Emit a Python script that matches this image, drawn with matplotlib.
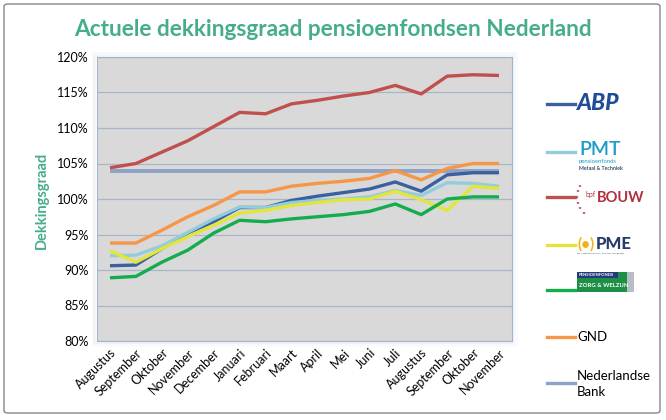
import matplotlib
matplotlib.use('Agg')
import matplotlib.pyplot as plt
from matplotlib.patches import FancyBboxPatch, Rectangle, Circle

# months on the category axis
months = ['Augustus', 'September', 'Oktober', 'November', 'December', 'Januari',
          'Februari', 'Maart', 'April', 'Mei', 'Juni', 'Juli', 'Augustus',
          'September', 'Oktober', 'November']

# dekkingsgraad per fonds (%)
abp = [90.6, 90.7, 93.0, 95.2, 96.8, 98.8, 98.8, 99.8, 100.4, 100.9, 101.4, 102.4, 101.1, 103.4, 103.7, 103.7]
pmt = [92.0, 92.1, 93.4, 95.3, 97.2, 98.9, 98.8, 99.5, 99.8, 100.0, 100.3, 101.2, 100.5, 102.3, 102.2, 101.8]
bouw = [104.4, 105.0, 106.6, 108.2, 110.2, 112.2, 112.0, 113.4, 113.9, 114.5, 115.0, 116.0, 114.8, 117.3, 117.5, 117.4]
pme = [92.7, 91.1, 93.0, 94.7, 96.3, 98.0, 98.4, 99.1, 99.5, 99.9, 100.0, 101.1, 99.9, 98.4, 101.8, 101.5]
zw = [88.9, 89.1, 91.1, 92.8, 95.2, 97.0, 96.8, 97.2, 97.5, 97.8, 98.25, 99.3, 97.8, 100.0, 100.3, 100.3]
gnd = [93.8, 93.8, 95.6, 97.5, 99.1, 101.0, 101.0, 101.8, 102.2, 102.5, 102.9, 104.0, 102.7, 104.3, 105.0, 105.0]
dnb = [104.0] * 16

yticks = [80, 85, 90, 95, 100, 105, 110, 115, 120]

FONT = 'Lato'
TEAL = '#45AD8C'

series = [
    (abp, '#3A60A0'),
    (pmt, '#93CDDD'),
    (bouw, '#C0504D'),
    (pme, '#E2E53A'),
    (zw, '#14AD4E'),
    (gnd, '#F79646'),
    (dnb, '#8EA2C6'),
]

fig = plt.figure(figsize=(6.66, 4.2), dpi=100, facecolor='white')

# outer chart border
fig.patches.append(FancyBboxPatch((4 / 666, 7 / 420), 656 / 666, 409 / 420,
                                  boxstyle='round,pad=0,rounding_size=0.006',
                                  transform=fig.transFigure, fc='none', ec='#868686', lw=1.0))

ax = fig.add_axes([97 / 666, 1 - 341 / 420, 415 / 666, 284 / 420])

# soft shadow around the plot area
for i, a in enumerate([0.08, 0.05, 0.03]):
    d = (i + 1) * 1.5
    fig.patches.append(Rectangle(((97 - d) / 666, (79 - d) / 420), (415 + 2 * d) / 666, (284 + 2 * d) / 420,
                                 transform=fig.transFigure, fc='none', ec='#7F9CC6', lw=1.5, alpha=a))

ax.set_facecolor('#D9D9D9')
x = list(range(len(months)))
for vals, col in series:
    ax.plot(x, vals, color=col, lw=2.4, solid_capstyle='butt', zorder=3)
# DNB line drawn slightly thicker and behind
ax.lines[-1].set_linewidth(2.8)
ax.lines[-1].set_zorder(2)

ax.set_xlim(-0.5, 15.5)
ax.set_ylim(80, 120)
ax.set_yticks(yticks)
ax.set_yticklabels([f'{v}%' for v in yticks], fontfamily=FONT, fontsize=9)
ax.set_xticks(x)
ax.set_xticklabels(months, rotation=45, ha='right', rotation_mode='anchor',
                   fontfamily=FONT, fontsize=9)
ax.tick_params(length=0, pad=6)
ax.tick_params(axis='x', pad=4)
ax.grid(axis='y', color='#A9B6C9', lw=0.9)
ax.set_axisbelow(True)
for s in ax.spines.values():
    s.set_color('#A5B5CC')
    s.set_linewidth(0.8)

fig.text(333 / 666, 1 - 30 / 420, 'Actuele dekkingsgraad pensioenfondsen Nederland',
         ha='center', va='center', fontfamily=FONT, fontweight='bold', fontsize=16.3, color=TEAL)
fig.text(42 / 666, 1 - 200 / 420, 'Dekkingsgraad', rotation=90, ha='center', va='center',
         fontfamily=FONT, fontweight='bold', fontsize=10.5, color=TEAL)

# legend: line samples with fund names / logo-like labels
leg_y = [104, 152, 197, 245, 290, 337, 383]
for (vals, col), yy in zip(series, leg_y):
    fy = 1 - yy / 420
    fig.lines.append(plt.Line2D([547 / 666, 575 / 666], [fy, fy], transform=fig.transFigure,
                                color=col, lw=2.4))


def fy(p):
    return 1 - p / 420


fig.text(577 / 666, fy(104), 'ABP', ha='left', va='center', fontfamily=FONT,
         fontweight='black', fontstyle='italic', fontsize=16.5, color='#1F4C97')
fig.text(579 / 666, fy(149), 'PMT', ha='left', va='center', fontfamily=FONT,
         fontsize=14, fontweight='semibold', color='#1B9BC6')
fig.text(579 / 666, fy(162), 'pensioenfonds', ha='left', va='center', fontfamily=FONT,
         fontsize=4.2, color='#1B9BC6')
fig.text(579 / 666, fy(168), 'Metaal & Techniek', ha='left', va='center', fontfamily=FONT,
         fontsize=3.8, fontweight='bold', color='#3A5070')
for i, (dx, dy) in enumerate([(0, -11), (-2, -6), (-3, 0), (-2, 6), (0, 11), (4, 16)]):
    fig.patches.append(Circle(((580 + dx) / 666, fy(197 + dy)), 1.3 / 666, transform=fig.transFigure,
                              fc='#B0303F', ec='none'))
fig.text(586 / 666, fy(194), 'bpf', ha='left', va='center', fontfamily=FONT, fontsize=5, color='#B0303F')
fig.text(597 / 666, fy(198), 'BOUW', ha='left', va='center', fontfamily=FONT, fontweight='bold',
         fontsize=10.5, color='#B0303F')
fig.text(577 / 666, fy(244), '(•)', ha='left', va='center', fontfamily=FONT, fontweight='bold',
         fontsize=11, color='#F2B315')
fig.text(596 / 666, fy(244), 'PME', ha='left', va='center', fontfamily=FONT, fontweight='black',
         fontsize=12, color='#263A6E')
fig.text(577 / 666, fy(253), 'PENSIOENFONDS VAN DE METAALELECTRO', ha='left', va='center',
         fontfamily=FONT, fontsize=1.6, color='#263A6E')
fig.patches.append(Rectangle((577 / 666, fy(292)), 57 / 666, 20 / 420, transform=fig.transFigure,
                             fc='#1D8F46', ec='none'))
fig.patches.append(Rectangle((577 / 666, fy(278)), 41 / 666, 6 / 420, transform=fig.transFigure,
                             fc='#243A7A', ec='none'))
fig.patches.append(Rectangle((627 / 666, fy(292)), 7 / 666, 20 / 420, transform=fig.transFigure,
                             fc='#B8BEC6', ec='none'))
fig.text(579 / 666, fy(275), 'PENSIOENFONDS', ha='left', va='center', fontfamily=FONT,
         fontsize=3, fontweight='bold', color='white')
fig.text(579 / 666, fy(285.5), 'ZORG & WELZIJN', ha='left', va='center', fontfamily=FONT,
         fontsize=4.3, fontweight='bold', color='white')
fig.text(577 / 666, fy(337), 'GND', ha='left', va='center', fontfamily=FONT, fontsize=9.5)
fig.text(577 / 666, fy(384), 'Nederlandse\nBank', ha='left', va='center', fontfamily=FONT,
         fontsize=9.5, linespacing=1.45)

fig.savefig('out.png', dpi=100)
